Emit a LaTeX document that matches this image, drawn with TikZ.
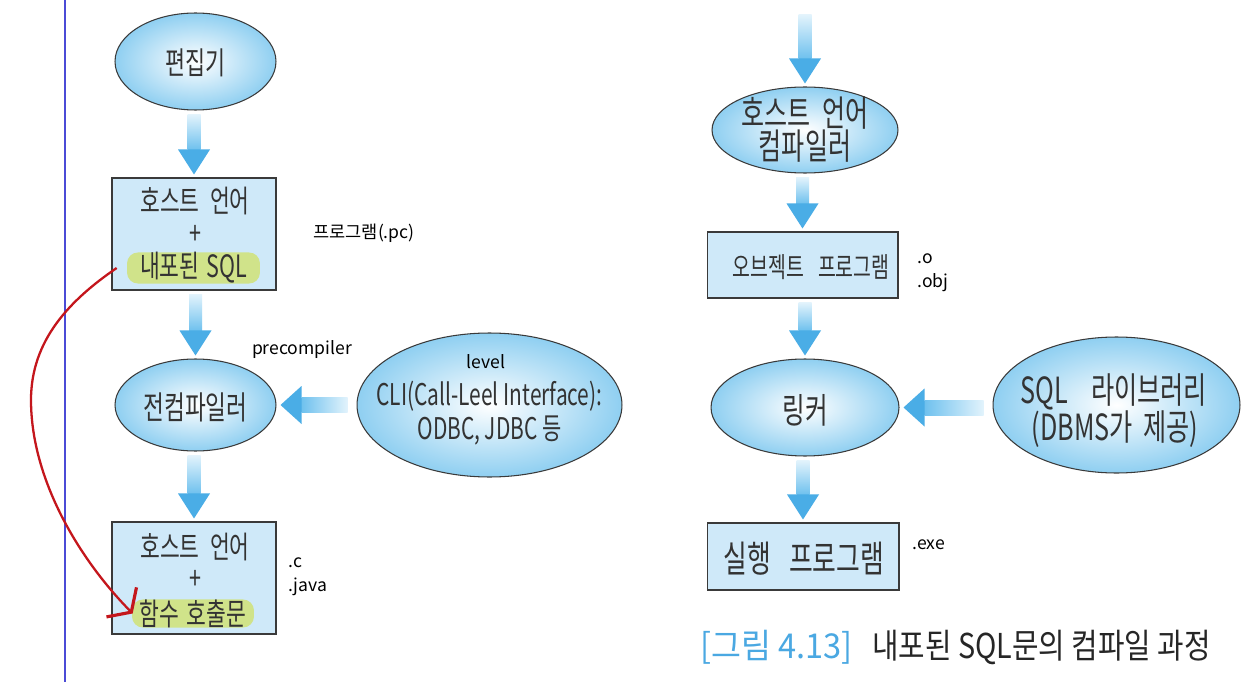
\documentclass[tikz,border=0pt]{standalone}
\usepackage{fontspec}
\usetikzlibrary{shapes.geometric,calc,arrows.meta}
\newfontfamily\kr[FakeStretch=0.7]{Noto Sans CJK KR}
\newfontfamily\krcap[FakeStretch=0.84]{Noto Sans CJK KR}
\newfontfamily\krcapw[FakeStretch=0.95]{Noto Sans CJK KR}
\newfontfamily\lab{Noto Sans CJK KR}
\definecolor{edge}{HTML}{3A3A3A}
\definecolor{txt}{HTML}{333333}
\definecolor{ellblue}{HTML}{8FCFF1}
\definecolor{boxblue}{HTML}{CFE9F9}
\definecolor{pillgreen}{HTML}{D0E38A}
\definecolor{arrlight}{HTML}{E2F3FC}
\definecolor{arrmid}{HTML}{6FC1EE}
\definecolor{arrblue}{HTML}{4AADE6}
\definecolor{capblue}{HTML}{4AA8E2}
\definecolor{vline}{HTML}{4B4BD6}
\definecolor{redline}{HTML}{C4161C}
\tikzset{
  ell/.style={ellipse, draw=edge, line width=0.6pt, inner color=white, outer color=ellblue, inner sep=0pt},
  boxnode/.style={rectangle, draw=edge, line width=0.6pt, fill=boxblue, inner sep=0pt},
  fs/.style={font=\kr\fontsize{#1}{#1}\selectfont},
  ktext/.style={text=txt, inner sep=0pt, fs=17},
  pill/.style={fill=pillgreen, rounded corners=0.22cm, inner sep=0pt, text=txt, fs=17.5},
  small/.style={text=black, inner sep=0pt, font=\lab\fontsize{10}{12}\selectfont},
  redarr/.style={draw=redline, line width=1.3pt, -{Straight Barb[length=8pt,width=24pt,line width=1.8pt]}},
}
\newcommand\vArrow[2]{%
  \coordinate (va) at ($(#1)+(0,4)$);
  \coordinate (vb) at ($(#2)+(0,-3)$);
  \coordinate (vh) at ($(vb)+(0,-25)$);
  \coordinate (vc) at (va -| vb);
  \shade[top color=arrlight, bottom color=arrmid] ($(vc)+(-6.5,0)$) rectangle ($(vh)+(6.5,0)$);
  \fill[arrblue] ($(vh)+(-16,0)$) -- (vb) -- ($(vh)+(16,0)$) -- cycle;
}
\newcommand\hArrow[2]{%
  \coordinate (ha) at ($(#1)+(-9,0)$);
  \coordinate (hb) at ($(#2)+(4,0)$);
  \coordinate (hh) at ($(hb)+(21,0)$);
  \coordinate (hcc) at (ha |- hb);
  \shade[left color=arrmid, right color=arrlight] ($(hh)+(0,-7.5)$) rectangle ($(hcc)+(0,7.5)$);
  \fill[arrblue] ($(hh)+(0,-19)$) -- (hb) -- ($(hh)+(0,19)$) -- cycle;
}
\begin{document}
\begin{tikzpicture}[x=0.02cm, y=-0.02cm]
\fill[white] (0,0) rectangle (1250,682);
\useasboundingbox (0,0) rectangle (1250,682);
\draw[vline, line width=1.2pt] (65,0) -- (65,682);

% left column
\node[ell, minimum width=3.22cm, minimum height=1.94cm] (ed) at (195.5,61.5) {};
\node[ktext, fs=17.7] (edt) at (195.5,63) {편집기};

\node[boxnode, minimum width=3.28cm, minimum height=2.24cm] (b1) at (194,234) {};
\node[ktext, fs=17.5] (b1a) at (195,201) {호스트\hspace{6pt}언어};
\node[ktext, fs=17.5] (b1b) at (195,235) {+};
\node[pill, minimum width=2.66cm, minimum height=0.44cm] (p1) at (193.5,268) {내포된\hspace{4pt}SQL};
\node[small, anchor=west] (pc) at (313,233) {프로그램(.pc)};

\node[ell, minimum width=3.22cm, minimum height=1.84cm] (pre) at (195.5,405) {};
\node[ktext, fs=18.4] (pret) at (195.5,407) {전컴파일러};
\node[small] (prel) at (302,350) {precompiler};

\node[ell, minimum width=5.3cm, minimum height=2.88cm] (cli) at (489.5,405) {};
\node[small] (lev) at (486,362) {level};
\node[ktext] (cli1) at (489.5,396) {CLI(Call-Leel Interface):};
\node[ktext] (cli2) at (489.5,431) {ODBC, JDBC 등};

\node[boxnode, minimum width=3.28cm, minimum height=2.24cm] (b2) at (194,578) {};
\node[ktext, fs=17.5] (b2a) at (195,547) {호스트\hspace{6pt}언어};
\node[ktext, fs=17.5] (b2b) at (195,580) {+};
\node[pill, minimum width=2.44cm, minimum height=0.46cm] (p2) at (193,613.5) {함수\hspace{4pt}호출문};
\node[small, anchor=west] (ext1) at (288,563) {.c};
\node[small, anchor=west] (ext2) at (288,587) {.java};

% right column
\coordinate (topR) at (805,11);
\node[ell, minimum width=3.72cm, minimum height=1.72cm] (hcomp) at (805,130) {};
\node[ktext, fs=20.4] (hc1) at (805,113) {호스트\hspace{7pt}언어};
\node[ktext, fs=20.4] (hc2) at (805,146) {컴파일러};

\node[boxnode, minimum width=3.82cm, minimum height=1.32cm] (obj) at (802.5,265) {};
\node[ktext, fs=15.8] (objt) at (811,267) {오브젝트\hspace{8pt}프로그램};
\node[small, anchor=west] (o1) at (917,259) {.o};
\node[small, anchor=west] (o2) at (917,283) {.obj};

\node[ell, minimum width=3.76cm, minimum height=1.94cm] (lnk) at (805,407.5) {};
\node[ktext, fs=20] (lnkt) at (805,410) {링커};

\node[ell, minimum width=4.94cm, minimum height=2.72cm] (lib) at (1116.5,405) {};
\node[ktext, fs=20.5] (lib1) at (1114,392) {SQL\hspace{13pt}라이브러리};
\node[ktext, fs=20.5] (lib2) at (1115,429) {(DBMS가\hspace{6pt}제공)};

\node[boxnode, minimum width=3.84cm, minimum height=1.34cm] (exe) at (803,556.5) {};
\node[ktext, fs=21] (exet) at (804,559) {실행\hspace{10pt}프로그램};
\node[small, anchor=west] (exel) at (912,545) {.exe};

% caption
\node[inner sep=0pt, anchor=west, text=capblue, font=\krcapw\fontsize{19.5}{22}\selectfont] (cap1) at (700,647) {[그림 4.13]};
\node[inner sep=0pt, anchor=west, text=black!85, font=\krcap\fontsize{19.5}{22}\selectfont] (cap2) at (872,647) {내포된 SQL문의 컴파일 과정};

% arrows
\vArrow{ed.south}{b1.north}
\vArrow{b1.south}{pre.north}
\vArrow{pre.south}{b2.north}
\hArrow{cli.west}{pre.east}
\vArrow{topR}{hcomp.north}
\vArrow{hcomp.south}{obj.north}
\vArrow{obj.south}{lnk.north}
\vArrow{lnk.south}{exe.north}
\hArrow{lib.west}{lnk.east}

% red annotation
\coordinate (rs) at ($(p1.west)+(-10,0)$);
\coordinate (re) at ($(p2.west)+(1,0)$);
\draw[redarr] (rs) .. controls (70,300) and (31,340) .. (31,400) .. controls (31,480) and (80,560) .. (re);
\end{tikzpicture}
\end{document}
